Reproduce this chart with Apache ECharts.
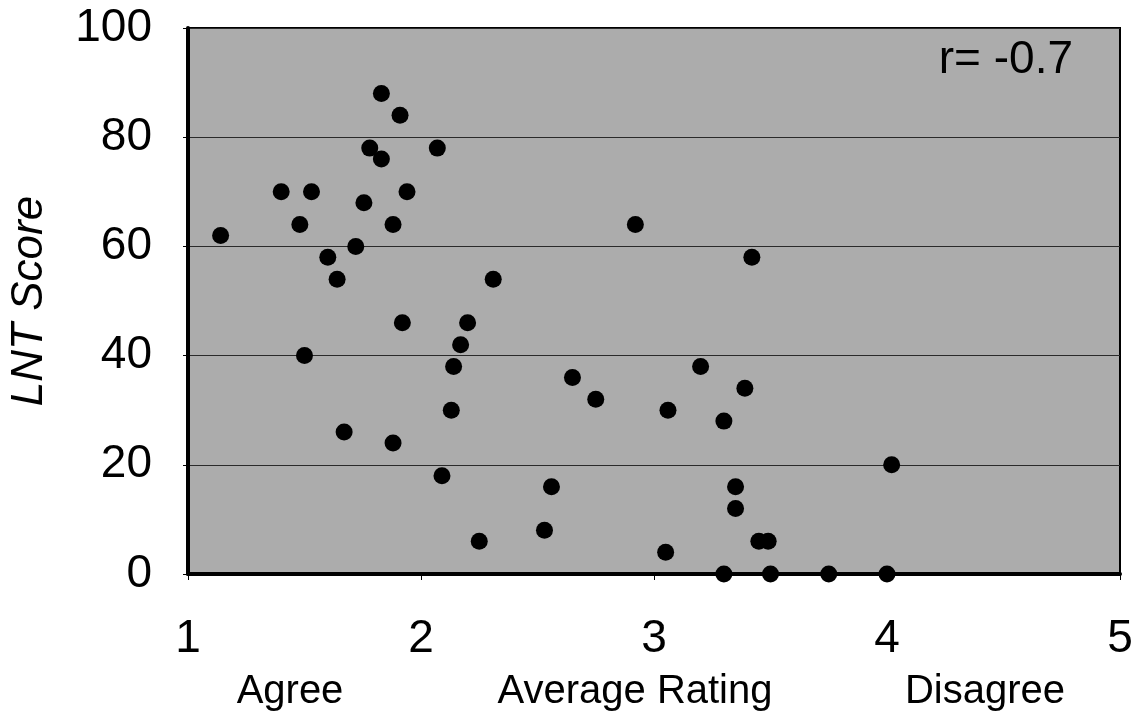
<!DOCTYPE html>
<html>
<head>
<meta charset="utf-8">
<script src="https://cdn.jsdelivr.net/npm/echarts@6/dist/echarts.min.js"></script>
<style>
  html, body { margin: 0; padding: 0; background: #fff; }
  #chart { width: 1139px; height: 723px; }
</style>
</head>
<body>
<div id="chart"></div>
<script>
// average rating (x) vs LNT score (y)
var ratings = [1.14, 1.40, 1.48, 1.50, 1.53, 1.60, 1.64, 1.67, 1.72, 1.755,
  1.78, 1.83, 1.83, 1.88, 1.88, 1.91, 1.92, 1.94, 2.07, 2.09,
  2.13, 2.14, 2.17, 2.20, 2.25, 2.31, 2.53, 2.56, 2.65, 2.75,
  2.92, 3.05, 3.06, 3.20, 3.30, 3.30, 3.35, 3.35, 3.39, 3.42,
  3.45, 3.49, 3.50, 3.75, 4.00, 4.02];
var scores = [62, 70, 64, 40, 70, 58, 54, 26, 60, 68,
  78, 88, 76, 64, 24, 84, 46, 70, 78, 18,
  30, 38, 42, 46, 6, 54, 8, 16, 36, 32,
  64, 4, 30, 38, 28, 0, 16, 12, 34, 58,
  6, 6, 0, 0, 0, 20];
var xTicks = [1, 2, 3, 4, 5];
var yTicks = [0, 20, 40, 60, 80, 100];
var scaleWords = ['Agree', 'Average Rating', 'Disagree'];
var annotation = 'r= -0.7';

var points = ratings.map(function (r, i) { return [r, scores[i]]; });

var chart = echarts.init(document.getElementById('chart'));
var font = '"Liberation Sans", Arial, sans-serif';
var wordX = [290, 635, 985];

chart.setOption({
  animation: false,
  backgroundColor: '#ffffff',
  grid: {
    left: 185, right: 19, top: 28, bottom: 149,
    show: true,
    backgroundColor: '#acacac',
    borderColor: '#000',
    borderWidth: 2
  },
  xAxis: {
    type: 'value',
    min: xTicks[0], max: xTicks[xTicks.length - 1], interval: 1,
    axisLine: { show: true, onZero: false, lineStyle: { color: '#000', width: 4 } },
    axisTick: { show: true, length: 6, lineStyle: { color: '#000', width: 1 } },
    axisLabel: { color: '#000', fontSize: 46, fontFamily: font, margin: 42 },
    splitLine: { show: false }
  },
  yAxis: {
    type: 'value',
    min: yTicks[0], max: yTicks[yTicks.length - 1], interval: 20,
    name: 'LNT Score',
    nameLocation: 'middle',
    nameGap: 136,
    nameRotate: 90,
    nameTextStyle: { color: '#000', fontSize: 44, fontStyle: 'italic', fontFamily: font },
    axisLine: { show: true, lineStyle: { color: '#000', width: 4 } },
    axisTick: { show: true, length: 5, lineStyle: { color: '#000', width: 1 } },
    axisLabel: { color: '#000', fontSize: 46, fontFamily: font, margin: 36 },
    splitLine: { show: true, lineStyle: { color: '#2a2a2a', width: 1 } }
  },
  graphic: [
    { type: 'text', right: 66, top: 37,
      style: { text: annotation, fill: '#000', font: '46px ' + font } }
  ].concat(scaleWords.map(function (w, i) {
    return { type: 'text', x: wordX[i], y: 692,
      style: { text: w, fill: '#000', font: '40px ' + font, align: 'center', verticalAlign: 'middle' } };
  })),
  series: [{
    type: 'scatter',
    data: points,
    symbol: 'circle',
    symbolSize: 17,
    itemStyle: { color: '#000', opacity: 1 },
    clip: false
  }]
});
</script>
</body>
</html>
